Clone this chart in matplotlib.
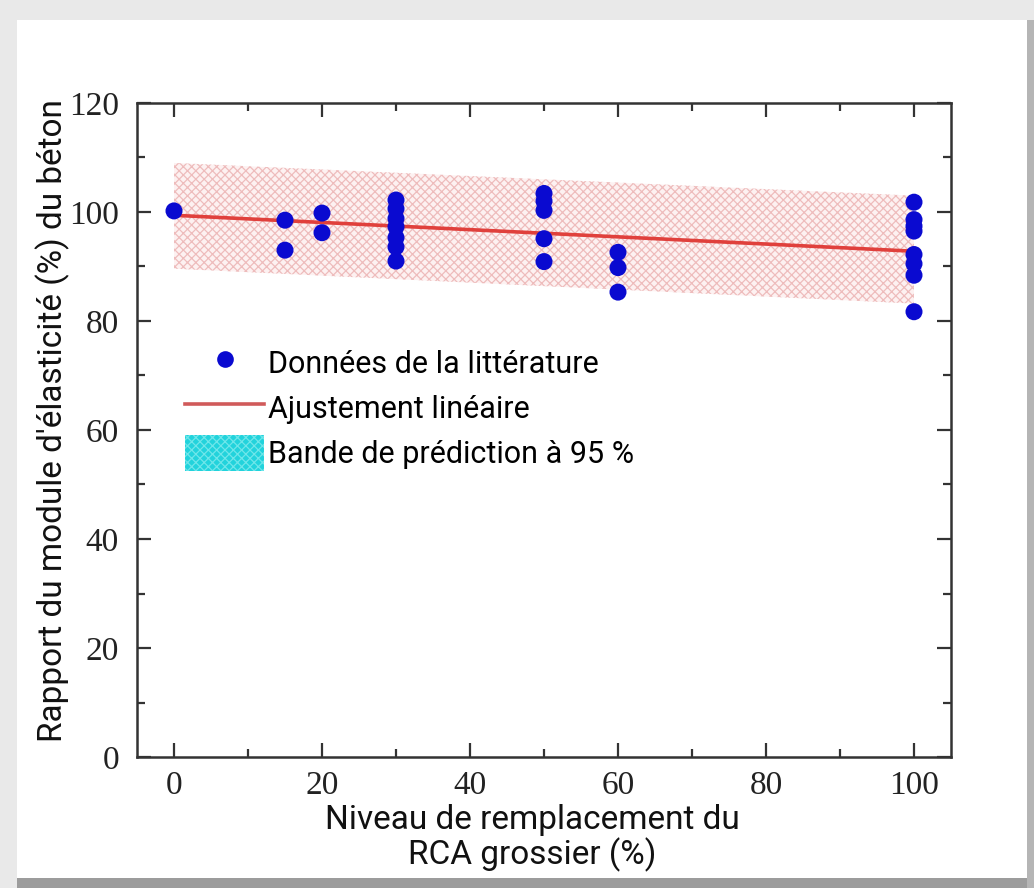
import numpy as np
import matplotlib
matplotlib.use("Agg")
import matplotlib.pyplot as plt
from matplotlib.patches import Rectangle, Patch
from matplotlib.lines import Line2D
from matplotlib.ticker import MultipleLocator

# Replacement level of coarse RCA (%) and measured modulus ratio (%)
rca_level = [0,
             15, 15,
             20, 20,
             30, 30, 30, 30, 30, 30, 30,
             50, 50, 50, 50, 50,
             60, 60, 60,
             100, 100, 100, 100, 100, 100, 100, 100]
modulus_ratio = [100.2,
                 98.5, 93.0,
                 99.8, 96.2,
                 102.2, 100.6, 98.8, 97.3, 95.3, 93.6, 91.0,
                 103.4, 102.0, 100.3, 95.1, 90.9,
                 92.6, 89.8, 85.3,
                 101.8, 98.6, 97.4, 96.5, 92.2, 90.5, 88.4, 81.7]

# Linear fit and 95 % prediction band end values
fit_x = [0, 100]
fit_y = [99.4, 92.8]
band_upper = [109.0, 103.0]
band_lower = [89.6, 83.2]

labels = ["Données de la littérature", "Ajustement linéaire",
          "Bande de prédiction à 95 %"]
x_ticks = [0, 20, 40, 60, 80, 100]
y_ticks = [0, 20, 40, 60, 80, 100, 120]

W, H = 1034, 888
fig = plt.figure(figsize=(W / 100, H / 100), dpi=100)
fig.patch.set_facecolor("#e9e9e9")

# card with a soft drop shadow
fig.patches.append(Rectangle((17 / W, 0), 1016 / W, 1 - 878 / H, transform=fig.transFigure,
                             facecolor="#9c9c9c", edgecolor="none", zorder=-3))
fig.patches.append(Rectangle((1027 / W, 0), 7 / W, 1 - 20 / H, transform=fig.transFigure,
                             facecolor="#b5b5b5", edgecolor="none", zorder=-3))
fig.patches.append(Rectangle((17 / W, 1 - 878 / H), (1027 - 17) / W, (878 - 20) / H,
                             transform=fig.transFigure, facecolor="white",
                             edgecolor="none", zorder=-2))

ax = fig.add_axes([137 / W, 1 - 757 / H, 814 / W, 654 / H])
ax.set_facecolor("none")

plt.rcParams["hatch.linewidth"] = 0.9

xs = np.array(fit_x, dtype=float)
ax.fill_between(xs, band_lower, band_upper, facecolor="#fdf1f1",
                edgecolor="#eebcbc", hatch="xxxx", linewidth=0, zorder=1)
ax.plot(fit_x, fit_y, color="#e0403c", lw=2.6, zorder=2)
ax.scatter(rca_level, modulus_ratio, s=150, color="#0a0ad0", edgecolors="none", zorder=3)

ax.set_xlim(-5, 105)
ax.set_ylim(0, 120)
ax.set_xticks(x_ticks)
ax.set_yticks(y_ticks)
ax.xaxis.set_minor_locator(MultipleLocator(10))
ax.yaxis.set_minor_locator(MultipleLocator(10))

tick_font = {"family": "Liberation Serif", "size": 24}
ax.set_xticklabels([str(v) for v in x_ticks], fontdict=tick_font, color="#222222")
ax.set_yticklabels([str(v) for v in y_ticks], fontdict=tick_font, color="#222222")
ax.tick_params(which="both", direction="in", top=True, right=True, color="#333333", width=1.6)
ax.tick_params(which="major", length=10)
ax.tick_params(which="minor", length=6)
ax.tick_params(axis="x", which="major", pad=10)
ax.tick_params(axis="y", which="major", pad=13)
for sp in ax.spines.values():
    sp.set_color("#333333")
    sp.set_linewidth(1.8)

ax.set_ylabel("Rapport du module d'élasticité (%) du béton", family="Roboto",
              fontsize=24, color="#111111")
ax.yaxis.set_label_coords(-0.082, 0.515)
ax.set_xlabel("Niveau de remplacement du\nRCA grossier (%)", family="Roboto",
              fontsize=24, color="#111111", linespacing=1.05)
ax.xaxis.set_label_coords(0.486, -0.072)

handles = [
    Line2D([], [], linestyle="none", marker="o", markersize=12,
           markerfacecolor="#0a0ad0", markeredgecolor="none"),
    Line2D([], [], color="#d05a5a", lw=2.6),
    Patch(facecolor="#22d3dc", edgecolor="#6ee6ea", hatch="xxxx", linewidth=0),
]
leg = ax.legend(handles, labels, loc="upper left", bbox_to_anchor=(0.059, 0.63),
                frameon=False, prop={"family": "Roboto", "size": 22},
                handlelength=2.6, handletextpad=0.1, labelspacing=0.28,
                handleheight=1.45, borderpad=0, borderaxespad=0)

fig.savefig("out.png", dpi=100, facecolor=fig.get_facecolor())
